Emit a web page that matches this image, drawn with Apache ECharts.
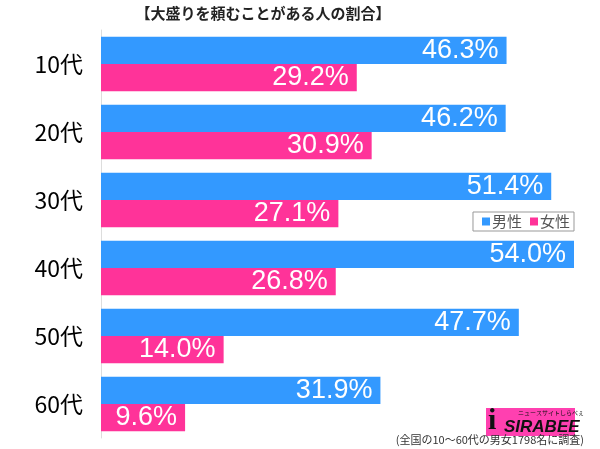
<!DOCTYPE html>
<html><head><meta charset="utf-8">
<script src="https://cdn.jsdelivr.net/npm/echarts@6/dist/echarts.min.js"></script>
<style>html,body{margin:0;padding:0;background:#fff}#c{width:600px;height:449px}</style>
</head><body><div id="c"></div>
<script>
const categories = ['10代','20代','30代','40代','50代','60代'];
const male = [46.3, 46.2, 51.4, 54.0, 47.7, 31.9];
const female = [29.2, 30.9, 27.1, 26.8, 14.0, 9.6];
const seriesNames = ['男性','女性'];
const titleText = '【大盛りを頼むことがある人の割合】';
const noteText = '(全国の10〜60代の男女1798名に調査)';

const chart = echarts.init(document.getElementById('c'), null, {renderer:'canvas'});
const jp = '"Noto Sans CJK JP", "Noto Sans", sans-serif';
const num = '"Liberation Sans", Arial, sans-serif';
const lbl = {show:true, position:'insideRight', distance:8, color:'#fff', fontSize:27, fontFamily:num,
  formatter: p => p.value.toFixed(1) + '%'};
chart.setOption({
  animation:false,
  title:{text:titleText, left:258, top:1, textAlign:'center',
    textStyle:{fontFamily:jp, fontSize:15, fontWeight:'bold', color:'#222'}},
  legend:{data:seriesNames, right:26, top:212, orient:'horizontal', itemWidth:8, itemHeight:8, itemGap:8,
    icon:'rect', borderColor:'#999', borderWidth:1, padding:[2,4,2,9],
    textStyle:{fontFamily:jp, fontSize:15, color:'#555', padding:[0,0,0,-3]}},
  grid:{left:101, top:30, width:473, height:408, containLabel:false},
  xAxis:{type:'value', min:0, max:54, show:false},
  yAxis:{type:'category', data:categories, inverse:true,
    axisLine:{lineStyle:{color:'#ddd'}}, axisTick:{show:false},
    axisLabel:{fontFamily:jp, fontSize:23, color:'#000', margin:18}},
  series:[
    {name:seriesNames[0], type:'bar', data:male, barGap:'0%', barCategoryGap:'20%',
      itemStyle:{color:'#3399ff'}, label:lbl},
    {name:seriesNames[1], type:'bar', data:female,
      itemStyle:{color:'#ff3399'}, label:lbl}
  ],
  graphic:[
    {type:'rect', left:486, top:408, shape:{width:89, height:28}, style:{fill:'#ff40b0'}},
    {type:'text', left:488, top:406, style:{text:'i', font:'bold 30px "Liberation Serif"', fill:'#111'}},
    {type:'text', left:504, top:419, style:{text:'SIRABEE', font:'bold italic 17px "Liberation Sans Narrow", "Liberation Sans"', fill:'#111'}},
    {type:'text', left:518, top:410, style:{text:'ニュースサイトしらべぇ', font:'6px "Noto Sans CJK JP"', fill:'#111'}},
    {type:'text', right:16, top:434, style:{text:noteText, font:'11px "Noto Sans CJK JP"', fill:'#333'}}
  ]
});
</script></body></html>
